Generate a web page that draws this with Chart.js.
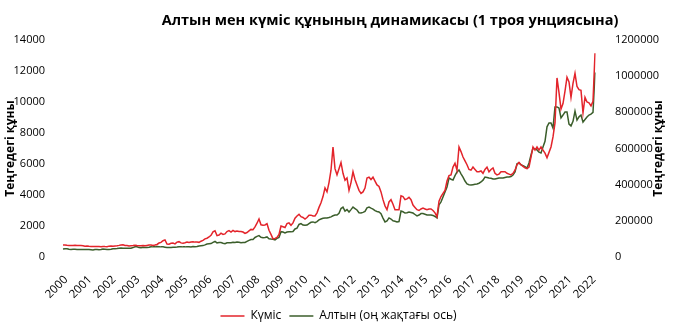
<!DOCTYPE html>
<html>
<head>
<meta charset="utf-8">
<script src="https://cdn.jsdelivr.net/npm/chart.js@4.4.1/dist/chart.umd.min.js"></script>
<style>
  html, body { margin: 0; padding: 0; background: #fff; }
  #wrap { width: 677px; height: 327px; }
</style>
</head>
<body>
<div id="wrap"><canvas id="pricesChart" width="677" height="327"></canvas></div>
<script>
const chartTitle = "Алтын мен күміс құнының динамикасы (1 троя унциясына)";
const axisTitle = "Теңгедегі құны";
const seriesNames = ["Күміс", "Алтын (оң жақтағы ось)"];

const yearLabels = ["2000", "2001", "2002", "2003", "2004", "2005", "2006", "2007", "2008", "2009", "2010",
    "2011", "2012", "2013", "2014", "2015", "2016", "2017", "2018", "2019", "2020", "2021", "2022"];

// күміс, теңге / унция, ай сайын (2000-01 ... 2022-03)
const silverPrices = [
    770, 780, 760, 745, 740, 745, 750, 735, 735, 735, 725, 700,
    705, 690, 680, 680, 680, 685, 675, 665, 680, 670, 665, 700,
    715, 700, 715, 730, 750, 780, 785, 740, 740, 715, 730, 745,
    765, 740, 720, 730, 740, 720, 745, 770, 780, 745, 770, 810,
    900, 940, 1050, 1100, 840, 830, 890, 900, 850, 960, 990, 910,
    890, 920, 960, 930, 965, 985, 960, 960, 945, 1020, 1070, 1170,
    1210, 1290, 1400, 1620, 1690, 1380, 1420, 1540, 1460, 1490, 1640, 1700,
    1610, 1720, 1640, 1680, 1650, 1650, 1610, 1520, 1580, 1680, 1780, 1760,
    1940, 2180, 2450, 2080, 2050, 2070, 2150, 1720, 1460, 1170, 1200, 1260,
    1450, 2000, 1950, 1900, 2150, 2200, 2050, 2200, 2500, 2650, 2750, 2600,
    2550, 2450, 2550, 2700, 2700, 2650, 2650, 2850, 3200, 3500, 3900, 4450,
    4200, 4800, 5600, 7100, 5700, 5300, 5700, 6100, 5400, 4950, 5100, 4300,
    4800, 5500, 5000, 4650, 4300, 4100, 4200, 4450, 5100, 5150, 5000, 5150,
    4900, 4650, 4550, 4200, 3700, 3300, 3050, 3550, 3700, 3400, 3050, 3050,
    3050, 3950, 3900, 3700, 3750, 3850, 3700, 3350, 3200, 3050, 3000, 3100,
    3150, 3100, 3050, 3100, 3100, 3000, 2850, 2600, 3600, 3900, 4100, 4300,
    4900, 5250, 5300, 5800, 6050, 5600, 7100, 6800, 6450, 6200, 5950, 5650,
    5600, 5800, 5650, 5500, 5500, 5550, 5400, 5650, 5800, 5500, 5650, 5750,
    5400, 5300, 5350, 5500, 5500, 5500, 5400, 5350, 5300, 5400, 5600, 5950,
    6100, 5950, 5850, 5750, 5700, 5800, 6450, 7100, 6900, 7100, 6900, 7100,
    6900, 6700, 6400, 6750, 7100, 7750, 8650, 11550, 10600, 9550, 9900, 10700,
    11600, 11300, 10300, 11200, 11850, 11000, 10800, 10750, 9300, 10300, 10000, 9950,
    9750, 10050, 13150
];

// алтын, теңге / унция, ай сайын
const goldPrices = [
    44000, 46000, 45000, 43000, 42000, 43000, 43000, 42000, 42000, 41000, 41000, 42000,
    42000, 41000, 40000, 39000, 41000, 41000, 40000, 41000, 44000, 43000, 42000, 42000,
    43000, 45000, 46000, 47000, 49000, 50000, 49000, 48000, 49000, 49000, 49000, 52000,
    56000, 56000, 52000, 51000, 54000, 53000, 53000, 54000, 57000, 56000, 56000, 58000,
    57000, 56000, 56000, 54000, 52000, 52000, 53000, 54000, 54000, 55000, 57000, 57000,
    56000, 56000, 57000, 57000, 56000, 58000, 57000, 58000, 61000, 62000, 63000, 67000,
    72000, 73000, 74000, 81000, 86000, 78000, 80000, 80000, 76000, 74000, 79000, 79000,
    79000, 82000, 80000, 83000, 81000, 79000, 80000, 80000, 86000, 92000, 97000, 97000,
    108000, 114000, 118000, 109000, 107000, 108000, 111000, 101000, 99000, 98000, 95000, 103000,
    108000, 140000, 138000, 133000, 138000, 140000, 139000, 141000, 155000, 160000, 180000, 185000,
    177000, 175000, 177000, 185000, 192000, 194000, 190000, 196000, 205000, 210000, 214000, 216000,
    216000, 218000, 222000, 228000, 232000, 232000, 242000, 268000, 276000, 254000, 262000, 249000,
    262000, 276000, 268000, 260000, 245000, 243000, 247000, 252000, 272000, 276000, 270000, 265000,
    256000, 252000, 249000, 240000, 215000, 194000, 200000, 216000, 210000, 200000, 198000, 194000,
    196000, 254000, 250000, 243000, 245000, 249000, 246000, 243000, 235000, 227000, 232000, 240000,
    240000, 236000, 232000, 232000, 232000, 230000, 224000, 216000, 288000, 305000, 332000, 360000,
    387000, 437000, 430000, 426000, 450000, 470000, 481000, 460000, 442000, 420000, 404000, 400000,
    398000, 400000, 402000, 404000, 408000, 415000, 425000, 442000, 440000, 437000, 435000, 431000,
    431000, 434000, 437000, 437000, 437000, 440000, 442000, 442000, 445000, 453000, 470000, 515000,
    520000, 510000, 505000, 500000, 492000, 520000, 564000, 603000, 598000, 592000, 580000, 575000,
    608000, 640000, 720000, 741000, 741000, 713000, 830000, 830000, 824000, 769000, 785000, 802000,
    802000, 735000, 725000, 750000, 807000, 757000, 775000, 785000, 746000, 760000, 774000, 785000,
    790000, 800000, 1020000
];

const silverColor = "#e3242b";
const goldColor = "#3b5e2b";
const fontFamily = "'Open Sans', 'Noto Sans', sans-serif";

// ай белгілері: "2000-01", "2000-02", ...
const monthLabels = [];
yearLabels.forEach(function (y) {
    for (let m = 1; m <= 12 && monthLabels.length < silverPrices.length; m++) {
        monthLabels.push(y + "-" + (m < 10 ? "0" + m : m));
    }
});

// тақырып пен екі осьтің атауы
const headerPlugin = {
    id: "header",
    afterDraw(chart) {
        const ctx = chart.ctx;
        const area = chart.chartArea;
        const midY = (area.top + area.bottom) / 2;
        ctx.save();
        ctx.fillStyle = "#000";
        ctx.textAlign = "center";
        ctx.textBaseline = "middle";
        ctx.font = "bold 14.5px " + fontFamily;
        ctx.fillText(chartTitle, 390, 21);
        ctx.font = "bold 12px " + fontFamily;
        [11, 659].forEach(function (x) {
            ctx.save();
            ctx.translate(x, midY);
            ctx.rotate(-Math.PI / 2);
            ctx.fillText(axisTitle, 0, 0);
            ctx.restore();
        });
        ctx.restore();
    }
};

const ctxPrices = document.getElementById("pricesChart").getContext("2d");
new Chart(ctxPrices, {
    type: "line",
    data: {
        labels: monthLabels,
        datasets: [{
            label: seriesNames[0],
            data: silverPrices,
            borderColor: silverColor,
            backgroundColor: silverColor,
            borderWidth: 1.5,
            pointRadius: 0,
            yAxisID: "y"
        }, {
            label: seriesNames[1],
            data: goldPrices,
            borderColor: goldColor,
            backgroundColor: goldColor,
            borderWidth: 1.5,
            pointRadius: 0,
            yAxisID: "y1"
        }]
    },
    options: {
        responsive: false,
        animation: false,
        layout: { padding: { top: 40, bottom: -5 } },
        scales: {
            x: {
                grid: { display: false },
                border: { display: false },
                ticks: {
                    autoSkip: false,
                    maxRotation: 45,
                    minRotation: 45,
                    padding: 8,
                    labelOffset: 3,
                    color: "#000",
                    font: { family: fontFamily, size: 11.5 },
                    callback: function (value) {
                        const lbl = this.getLabelForValue(value);
                        return lbl.endsWith("-01") ? lbl.slice(0, 4) : null;
                    }
                },
                afterFit: function (scale) { scale.height = 45; }
            },
            y: {
                position: "left",
                min: 0,
                max: 14000,
                grid: { display: false },
                border: { display: false },
                ticks: {
                    stepSize: 2000,
                    padding: 10,
                    color: "#000",
                    font: { family: fontFamily, size: 11 },
                    callback: function (v) { return String(v); }
                },
                afterFit: function (scale) { scale.width = 63; }
            },
            y1: {
                position: "right",
                min: 0,
                max: 1200000,
                grid: { display: false },
                border: { display: false },
                ticks: {
                    stepSize: 200000,
                    padding: 12,
                    color: "#000",
                    font: { family: fontFamily, size: 11 },
                    callback: function (v) { return String(v); }
                },
                afterFit: function (scale) { scale.width = 82; }
            }
        },
        plugins: {
            title: { display: false },
            tooltip: { enabled: false },
            legend: {
                position: "bottom",
                labels: {
                    usePointStyle: true,
                    pointStyle: "line",
                    pointStyleWidth: 24,
                    padding: 8,
                    color: "#000",
                    font: { family: fontFamily, size: 12 }
                }
            }
        }
    },
    plugins: [headerPlugin]
});
</script>
</body>
</html>
